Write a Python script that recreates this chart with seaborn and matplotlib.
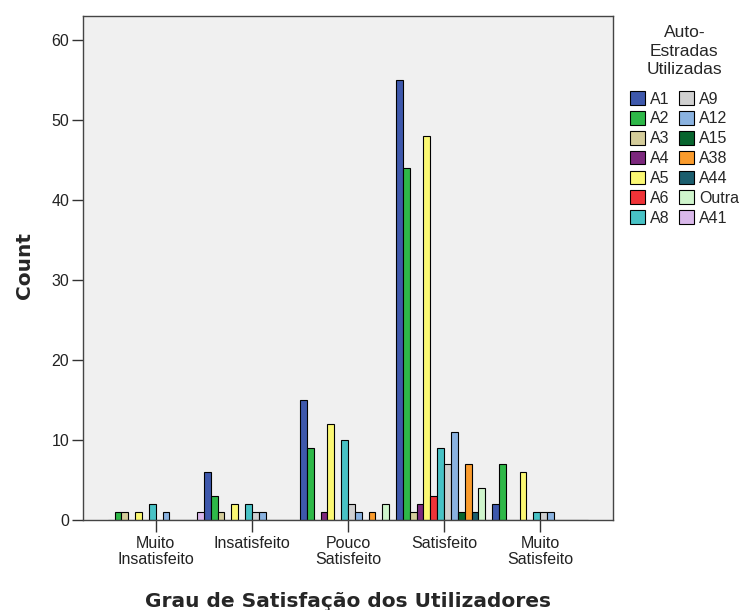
import pandas as pd
import numpy as np
import seaborn as sns
import matplotlib
matplotlib.use('Agg')
import matplotlib.pyplot as plt
from matplotlib.patches import Patch

# Dados (contagens por grau de satisfação)
satisfacao = ['Muito\nInsatisfeito', 'Insatisfeito', 'Pouco\nSatisfeito', 'Satisfeito', 'Muito\nSatisfeito']
estradas = ['A1', 'A2', 'A3', 'A4', 'A5', 'A6', 'A8', 'A9', 'A12', 'A15', 'A38', 'A44', 'Outra', 'A41']

a1 = [0, 6, 15, 55, 2]
a2 = [1, 3, 9, 44, 7]
a3 = [1, 1, 0, 1, 0]
a4 = [0, 0, 1, 2, 0]
a5 = [1, 2, 12, 48, 6]
a6 = [0, 0, 0, 3, 0]
a8 = [2, 2, 10, 9, 1]
a9 = [0, 1, 2, 7, 1]
a12 = [1, 1, 1, 11, 1]
a15 = [0, 0, 0, 1, 0]
a38 = [0, 0, 1, 7, 0]
a44 = [0, 0, 0, 1, 0]
outra = [0, 0, 2, 4, 0]
a41 = [1, 0, 0, 0, 0]

cores = ['#3E58AC', '#2EB848', '#D4CC9A', '#7C287D', '#FBF873', '#EF3338', '#48C2C5',
         '#D0D0D0', '#8AB2E0', '#07652E', '#FA9B2C', '#1B5E6E', '#CFF5CC', '#D9B8EA']

contagens = [a1, a2, a3, a4, a5, a6, a8, a9, a12, a15, a38, a44, outra, a41]
rows = []
for est, vals in zip(estradas, contagens):
    for sat, v in zip(satisfacao, vals):
        rows.append({'Satisfacao': sat, 'Estrada': est, 'Count': v})
data = pd.DataFrame(rows)

sns.set_style('white')
plt.rcParams['font.family'] = ['Liberation Sans', 'DejaVu Sans']

fig = plt.figure(figsize=(7.51, 6.10), dpi=100)
ax = fig.add_axes([0.1105, 0.1475, 0.7057, 0.8263])
ax.set_facecolor('#F0F0F0')

palette = dict(zip(estradas, cores))
sns.barplot(data=data, x='Satisfacao', y='Count', hue='Estrada', order=satisfacao,
            hue_order=estradas, palette=palette, width=1.0, gap=0, saturation=1,
            edgecolor='black', linewidth=0.8, errorbar=None, legend=False, ax=ax)

ax.set_xlim(-0.757, 4.757)
ax.set_ylim(0, 63)
ax.set_yticks(range(0, 61, 10))

for s in ax.spines.values():
    s.set_visible(True)
    s.set_color('#444444')
    s.set_linewidth(1)

ax.tick_params(axis='x', direction='out', length=8.5, width=1, color='#333333',
               labelsize=11.5, labelcolor='#222222', pad=3, bottom=True)
ax.tick_params(axis='y', direction='out', length=8, width=1, color='#333333',
               labelsize=11.5, labelcolor='#222222', pad=2, left=True)
for lbl in ax.get_xticklabels():
    lbl.set_multialignment('center')
    lbl.set_linespacing(1.05)

ax.set_xlabel('Grau de Satisfação dos Utilizadores', fontsize=14.5, fontweight='bold',
              family='DejaVu Sans')
ax.xaxis.set_label_coords(0.5, -0.143)
ax.set_ylabel('Count', fontsize=14.5, fontweight='bold', family='DejaVu Sans')
ax.yaxis.set_label_coords(-0.093, 0.505)

handles = [Patch(facecolor=c, edgecolor='black', linewidth=0.8) for c in cores]
leg = fig.legend(handles, estradas, ncol=2, loc='upper left', bbox_to_anchor=(0.828, 0.972),
                 frameon=False, title='Auto-\nEstradas\nUtilizadas', fontsize=11.5,
                 title_fontsize=12.5, handlelength=0.95, handleheight=0.95, handletextpad=0.3,
                 columnspacing=0.6, labelspacing=0.28, borderpad=0)
leg.get_title().set_multialignment('center')
leg.get_title().set_linespacing(1.3)
leg._legend_box.sep = 10

fig.savefig('out.png', dpi=100)
